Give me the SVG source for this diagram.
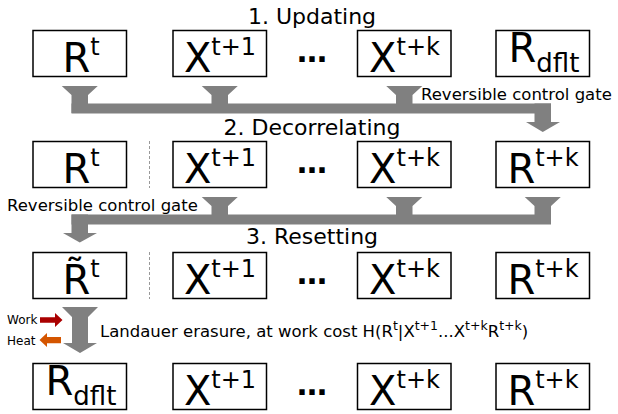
<svg xmlns="http://www.w3.org/2000/svg" width="618" height="414" viewBox="0 0 618 414">
<style>
text{font-family:"DejaVu Sans",sans-serif;fill:#000}
.box{fill:#fff;stroke:#000;stroke-width:1.5}
.big{font-size:40px}
.sup{font-size:24px}
.sub{font-size:26px}
.title{font-size:22px;text-anchor:middle}
.lab{font-size:16.5px}
.dots{font-size:30px;font-weight:bold;text-anchor:middle}
.gate{fill:#808080}
.dash{stroke:#999;stroke-width:1;stroke-dasharray:3,2}
.m{text-anchor:middle}
.ls{font-size:12.5px}
</style>
<defs>
<polygon id="funnel" points="-18,0 18,0 8.25,9 8.25,27 -8.25,27 -8.25,9"/>
</defs>

<text class="title" x="312" y="24">1. Updating</text>
<text class="title" x="312" y="135">2. Decorrelating</text>
<text class="title" x="312" y="244">3. Resetting</text>

<!-- Row 1 -->
<g id="r1-Rt"><rect class="box" x="33" y="30.5" width="93.5" height="46"/><text class="big m" x="81" y="72">R<tspan class="sup" dy="-17">t</tspan></text></g>
<g id="r1-X1"><rect class="box" x="173" y="30.5" width="93.5" height="46"/><text class="big m" x="220" y="72">X<tspan class="sup" dy="-17">t+1</tspan></text></g>
<text class="dots" id="r1-dots" x="312" y="62">…</text>
<g id="r1-Xk"><rect class="box" x="357.5" y="30.5" width="93.5" height="46"/><text class="big m" x="404.5" y="72">X<tspan class="sup" dy="-17">t+k</tspan></text></g>
<g id="r1-Rdflt"><rect class="box" x="496" y="30.5" width="93.5" height="46"/><text class="big m" x="544" y="62">R<tspan class="sub" dy="10">dflt</tspan></text></g>

<!-- Row 2 -->
<g id="r2-Rt"><rect class="box" x="33" y="141.5" width="93.5" height="46"/><text class="big m" x="81" y="183">R<tspan class="sup" dy="-17">t</tspan></text></g>
<line class="dash" x1="149.5" y1="141" x2="149.5" y2="188"/>
<g id="r2-X1"><rect class="box" x="173" y="141.5" width="93.5" height="46"/><text class="big m" x="220" y="183">X<tspan class="sup" dy="-17">t+1</tspan></text></g>
<text class="dots" id="r2-dots" x="312" y="173">…</text>
<g id="r2-Xk"><rect class="box" x="357.5" y="141.5" width="93.5" height="46"/><text class="big m" x="404.5" y="183">X<tspan class="sup" dy="-17">t+k</tspan></text></g>
<g id="r2-Rk"><rect class="box" x="496" y="141.5" width="93.5" height="46"/><text class="big m" x="543" y="183">R<tspan class="sup" dy="-17">t+k</tspan></text></g>

<!-- Row 3 -->
<g id="r3-Rt"><rect class="box" x="33" y="252.5" width="93.5" height="46"/><text class="big m" x="81" y="294">R&#x303;<tspan class="sup" dy="-17">t</tspan></text></g>
<line class="dash" x1="149.5" y1="252" x2="149.5" y2="299"/>
<g id="r3-X1"><rect class="box" x="173" y="252.5" width="93.5" height="46"/><text class="big m" x="220" y="294">X<tspan class="sup" dy="-17">t+1</tspan></text></g>
<text class="dots" id="r3-dots" x="312" y="284">…</text>
<g id="r3-Xk"><rect class="box" x="357.5" y="252.5" width="93.5" height="46"/><text class="big m" x="404.5" y="294">X<tspan class="sup" dy="-17">t+k</tspan></text></g>
<g id="r3-Rk"><rect class="box" x="496" y="252.5" width="93.5" height="46"/><text class="big m" x="543" y="294">R<tspan class="sup" dy="-17">t+k</tspan></text></g>

<!-- Row 4 -->
<g id="r4-Rdflt"><rect class="box" x="33" y="363.5" width="93.5" height="46"/><text class="big m" x="81" y="395">R<tspan class="sub" dy="10">dflt</tspan></text></g>
<g id="r4-X1"><rect class="box" x="173" y="363.5" width="93.5" height="46"/><text class="big m" x="220" y="405">X<tspan class="sup" dy="-17">t+1</tspan></text></g>
<text class="dots" id="r4-dots" x="312" y="395">…</text>
<g id="r4-Xk"><rect class="box" x="357.5" y="363.5" width="93.5" height="46"/><text class="big m" x="404.5" y="405">X<tspan class="sup" dy="-17">t+k</tspan></text></g>
<g id="r4-Rk"><rect class="box" x="496" y="363.5" width="93.5" height="46"/><text class="big m" x="543" y="405">R<tspan class="sup" dy="-17">t+k</tspan></text></g>

<!-- Connectors -->
<g id="connectors">
<g id="gate1" class="gate">
<use href="#funnel" x="79.75" y="86"/>
<use href="#funnel" x="219.75" y="86"/>
<use href="#funnel" x="404.25" y="86"/>
<rect x="71.5" y="103.5" width="479.5" height="10"/>
<rect x="534.5" y="103.5" width="16.5" height="19"/>
<polygon points="526,122 560,122 542.75,132"/>
</g>
<text class="lab" x="421" y="100">Reversible control gate</text>
<g id="gate2" class="gate">
<use href="#funnel" x="219.75" y="197"/>
<use href="#funnel" x="404.25" y="197"/>
<use href="#funnel" x="542.75" y="197"/>
<rect x="71.5" y="214.5" width="479.5" height="10"/>
<rect x="71.5" y="214.5" width="16.5" height="19"/>
<polygon points="63,233 97,233 79.75,242.5"/>
</g>
<text class="lab" x="7" y="211">Reversible control gate</text>
<g id="erase" class="gate">
<polygon points="62,307 98,307 88,317 88,343 97,343 80,353 63,343 72,343 72,317"/>
</g>
<g id="work">
<polygon fill="#aa0000" points="40,317.3 55,317.3 55,313 62.5,320 55,327 55,322.7 40,322.7"/>
<text x="7" y="324" style="font-size:12px">Work</text>
</g>
<g id="heat">
<polygon fill="#d45500" points="61,337 47,337 47,333 39.5,340 47,347 47,343.3 61,343.3"/>
<text x="7" y="345" style="font-size:12px">Heat</text>
</g>
<text x="100" y="337" style="font-size:16.5px">Landauer erasure, at work cost H(R<tspan class="ls" dy="-7">t</tspan><tspan dy="7">|X</tspan><tspan class="ls" dy="-7">t+1</tspan><tspan dy="7">...X</tspan><tspan class="ls" dy="-7">t+k</tspan><tspan dy="7">R</tspan><tspan class="ls" dy="-7">t+k</tspan><tspan dy="7">)</tspan></text>
</g>
</svg>
